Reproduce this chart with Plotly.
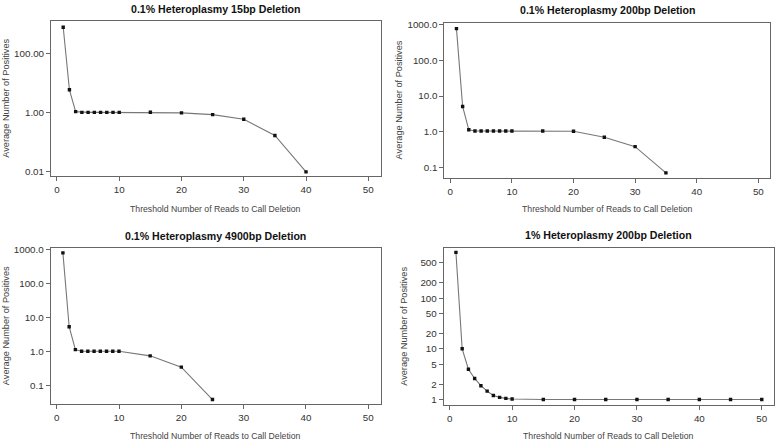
import plotly.graph_objects as go

W, H = 778, 442

# ---- data ----
titles = ["0.1% Heteroplasmy 15bp Deletion", "0.1% Heteroplasmy 200bp Deletion",
          "0.1% Heteroplasmy 4900bp Deletion", "1% Heteroplasmy 200bp Deletion"]

x_15bp = [1, 2, 3, 4, 5, 6, 7, 8, 9, 10, 15, 20, 25, 30, 35, 40]
y_15bp = [760, 5.9, 1.08, 1.02, 1.02, 1.02, 1.02, 1.02, 1.02, 1.02, 1.03, 0.98, 0.86, 0.60, 0.17, 0.01]

x_200bp = [1, 2, 3, 4, 5, 6, 7, 8, 9, 10, 15, 20, 25, 30, 35]
y_200bp = [780, 5.1, 1.13, 1.04, 1.04, 1.04, 1.04, 1.04, 1.04, 1.04, 1.04, 1.03, 0.70, 0.38, 0.07]

x_4900bp = [1, 2, 3, 4, 5, 6, 7, 8, 9, 10, 15, 20, 25]
y_4900bp = [795, 5.4, 1.14, 1.02, 1.02, 1.02, 1.02, 1.02, 1.02, 1.02, 0.75, 0.35, 0.039]

x_1pct = [1, 2, 3, 4, 5, 6, 7, 8, 9, 10, 15, 20, 25, 30, 35, 40, 45, 50]
y_1pct = [800, 10, 3.95, 2.6, 1.87, 1.46, 1.2, 1.1, 1.05, 1.02, 1, 1, 1, 1, 1, 1, 1, 1]

xticks = [0, 10, 20, 30, 40, 50]
yticks_a = [100, 1, 0.01]
ytext_a = ["100.00", "1.00", "0.01"]
yticks_b = [1000, 100, 10, 1, 0.1]
ytext_b = ["1000.0", "100.0", "10.0", "1.0", "0.1"]
yticks_c = [1, 2, 5, 10, 20, 50, 100, 200, 500]
ytext_c = ["1", "2", "5", "10", "20", "50", "100", "200", "500"]

x_title = "Threshold Number of Reads to Call Deletion"
y_title = "Average Number of Positives"

# ---- layout geometry (pixels) ----
boxes = [  # left, right, top, bottom
    (51, 380.5, 17.3, 174.3),
    (444.4, 770.4, 19, 176),
    (50.7, 380.5, 246.7, 405),
    (443.7, 774, 247, 406),
]
yranges = [(-2.15, 3.09), (-1.30, 3.055), (-1.552, 3.047), (-0.117, 2.986)]
series = [(x_15bp, y_15bp, yticks_a, ytext_a), (x_200bp, y_200bp, yticks_b, ytext_b),
          (x_4900bp, y_4900bp, yticks_b, ytext_b), (x_1pct, y_1pct, yticks_c, ytext_c)]
title_y = [5.5, 6.5, 235, 234]
xtitle_y = [207, 207, 436.5, 436.5]
ytitle_x = [6, 399, 6, 404]

FONT = "Liberation Sans, Arial, sans-serif"
fig = go.Figure()
annotations = []
for i, ((xs, ys, tv, tt), (l, r, t, b)) in enumerate(zip(series, boxes)):
    n = "" if i == 0 else str(i + 1)
    fig.add_trace(go.Scatter(
        x=xs, y=ys, mode="lines+markers", xaxis="x" + n, yaxis="y" + n,
        line=dict(color="#777777", width=1.1),
        marker=dict(symbol="square", size=3.4, color="#111111"),
        showlegend=False, hoverinfo="x+y"))
    axstyle = dict(showline=True, mirror=True, linecolor="#666666", linewidth=1,
                   ticks="outside", ticklen=4, tickcolor="#666666", showgrid=False,
                   zeroline=False, tickfont=dict(family=FONT, size=9.8, color="#333333"))
    fig.layout["xaxis" + n] = dict(
        domain=[l / W, r / W], range=[-0.96, 51.96], anchor="y" + n,
        tickvals=xticks, ticktext=[str(v) for v in xticks], **axstyle)
    fig.layout["yaxis" + n] = dict(
        domain=[1 - b / H, 1 - t / H], type="log", range=list(yranges[i]), anchor="x" + n,
        tickvals=tv, ticktext=tt, **axstyle)
    annotations.append(dict(text="<b>" + titles[i] + "</b>", xref="paper", yref="paper",
                            x=(l + r) / 2 / W, y=1 - title_y[i] / H, xanchor="center",
                            yanchor="middle", showarrow=False,
                            font=dict(family=FONT, size=10.6, color="#111111")))
    annotations.append(dict(text=x_title, xref="paper", yref="paper",
                            x=(l + r) / 2 / W, y=1 - xtitle_y[i] / H, xanchor="center",
                            yanchor="middle", showarrow=False,
                            font=dict(family=FONT, size=8.7, color="#444444")))
    annotations.append(dict(text=y_title, xref="paper", yref="paper",
                            x=ytitle_x[i] / W, y=1 - (t + b) / 2 / H, xanchor="center",
                            yanchor="middle", showarrow=False, textangle=-90,
                            font=dict(family=FONT, size=9.2, color="#444444")))

fig.update_layout(width=W, height=H, margin=dict(l=0, r=0, t=0, b=0),
                  paper_bgcolor="white", plot_bgcolor="white",
                  annotations=annotations)
fig.write_html("out.html", config={"displayModeBar": False},
               post_script="document.body.style.margin='0';document.body.style.padding='0';"
                           "document.body.style.overflow='hidden';")
